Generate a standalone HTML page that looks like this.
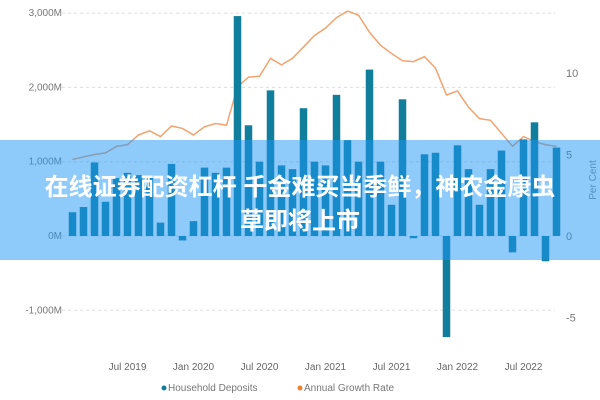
<!DOCTYPE html>
<html><head><meta charset="utf-8"><style>
body{margin:0;width:600px;height:400px;overflow:hidden;background:#fff;font-family:"Liberation Sans","Noto Sans CJK SC",sans-serif}
#wrap{position:relative;width:600px;height:400px}
svg{position:absolute;left:0;top:0}
#banner{position:absolute;left:0;top:140px;width:600px;height:120px;background:rgba(30,150,245,0.5)}
.bt{position:absolute;left:0;width:600px;text-align:center;color:#fff;font-weight:bold;font-size:24px;font-family:"Liberation Sans","Noto Sans CJK SC",sans-serif;white-space:nowrap}
</style></head><body>
<div id="wrap">
<svg id="chart" width="600" height="400"></svg>
<div id="banner">
<div class="bt" style="top:27px">在线证券配资杠杆 千金难买当季鲜，神农金康虫</div>
<div class="bt" style="top:61px">草即将上市</div>
</div>
</div>
<script>
const deposits=[320,390,990,460,780,850,820,780,180,970,-60,200,920,850,920,2960,1490,1000,1960,950,900,1720,1000,950,1900,1290,1000,2240,1000,420,1840,-30,1100,1120,-1360,1220,900,420,900,1150,-220,1300,1530,-340,1190];
const growth=[4.7,4.85,5.0,5.1,5.5,5.6,6.2,6.45,6.1,6.75,6.6,6.2,6.7,6.9,6.8,9.15,9.75,9.8,10.9,10.5,10.9,11.6,12.3,12.75,13.4,13.8,13.55,12.5,11.7,11.2,10.75,10.7,11.0,10.3,8.65,8.9,7.9,7.2,7.1,6.3,5.5,6.1,5.8,5.6,5.5];
const leftTicks=[3000,2000,1000,0,-1000];
const leftLabels=["3,000M","2,000M","1,000M","0M","-1,000M"];
const rightTicks=[10,5,0,-5];
const xLabels=["Jul 2019","Jan 2020","Jul 2020","Jan 2021","Jul 2021","Jan 2022","Jul 2022"];
const xLabelIdx=[5,11,17,23,29,35,41];

const NS="http://www.w3.org/2000/svg";
const svg=document.getElementById('chart');
const yL=v=>236-v*0.0743;
const yR=v=>236-v*16.3;
const xB=i=>72.5+i*11;
function mk(t,a){const e=document.createElementNS(NS,t);for(const k in a)e.setAttribute(k,a[k]);svg.appendChild(e);return e;}

leftTicks.forEach((v,i)=>{
 const g=mk('line',{x1:62,x2:555,y1:yL(v),y2:yL(v),stroke:'#ddd','stroke-dasharray':'3,3'});
 
 
 const t=mk('text',{x:62,y:yL(v)+3,'text-anchor':'end','font-size':10,fill:'#777'});
 t.textContent=leftLabels[i];
 
 
});
rightTicks.forEach(v=>{
 const t=mk('text',{x:566,y:yR(v)+4,'text-anchor':'start','font-size':11,fill:'#777'});
 t.textContent=v;
 
 
});
const pc=mk('text',{x:0,y:0,'font-size':10,fill:'#888','text-anchor':'middle',transform:'translate(596,180) rotate(-90)'});
pc.textContent='Per Cent';



const pts=growth.map((v,i)=>xB(i)+','+yR(v)).join(' ');
const ln=mk('polyline',{points:pts,fill:'none',stroke:'#f2a36e','stroke-width':1.5});



deposits.forEach((v,i)=>{
 const y0=yL(0),y1=yL(v);
 const r=mk('rect',{x:xB(i)-3.75,y:Math.min(y0,y1),width:7.5,height:Math.max(1.5,Math.abs(y1-y0)),fill:'#117e9c'});
 
 
});

xLabels.forEach((l,i)=>{
 const t=mk('text',{x:xB(xLabelIdx[i]),y:370,'text-anchor':'middle','font-size':10,fill:'#666'});
 t.textContent=l;
 
 
});
const c1=mk('circle',{cx:164,cy:388,r:2.5,fill:'#117e9c'});


const l1=mk('text',{x:168,y:391,'font-size':10,fill:'#777'});
l1.textContent='Household Deposits';


const c2=mk('circle',{cx:300,cy:388,r:2.5,fill:'#f08030'});


const l2=mk('text',{x:304,y:391,'font-size':10,fill:'#777'});
l2.textContent='Annual Growth Rate';


</script>
</body></html>
